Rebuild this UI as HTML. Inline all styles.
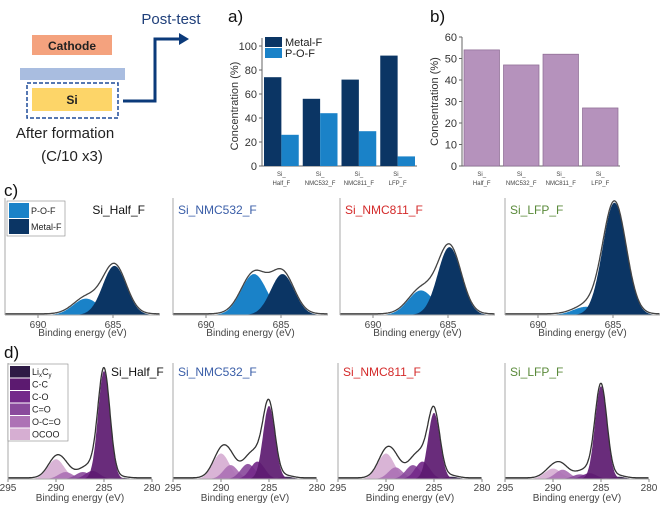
<!DOCTYPE html>
<html><head><meta charset="utf-8"><style>
body{margin:0;background:#fff;}
svg{display:block;font-family:"Liberation Sans",sans-serif;}
</style></head><body>
<svg id="fig" width="662" height="506" viewBox="0 0 662 506">
<g>
<rect x="32" y="35" width="80" height="20" fill="#f4a27e"/>
<text x="72" y="50" font-size="12" font-weight="bold" text-anchor="middle" fill="#222">Cathode</text>
<rect x="20" y="68" width="105" height="12" fill="#a9bde0"/>
<rect x="27" y="83" width="91" height="35" fill="none" stroke="#1f4b99" stroke-width="1.5" stroke-dasharray="4,2"/>
<rect x="32" y="88" width="80" height="23" fill="#fdd568"/>
<text x="72" y="104" font-size="12" font-weight="bold" text-anchor="middle" fill="#222">Si</text>
<text x="65" y="138" font-size="15" text-anchor="middle" fill="#222">After formation</text>
<text x="72" y="161" font-size="15" text-anchor="middle" fill="#222">(C/10 x3)</text>
<polyline points="123,101 155,101 155,39 180,39" fill="none" stroke="#0b3a7a" stroke-width="3"/>
<polygon points="179,33 189,39 179,45" fill="#0b3a7a"/>
<text x="171" y="24" font-size="15" text-anchor="middle" fill="#1f3f7a">Post-test</text>
</g>
<text x="228" y="22" font-size="17" fill="#111">a)</text>
<text x="430" y="22" font-size="17" fill="#111">b)</text>
<text x="4" y="196" font-size="17" fill="#111">c)</text>
<text x="4" y="358" font-size="17" fill="#111">d)</text>
<g id="ga"></g><g id="gb"></g><g id="gc"></g><g id="gd"></g>
</svg>
<script>
const NS="http://www.w3.org/2000/svg";
const catsA=["Si_|Half_F","Si_|NMC532_F","Si_|NMC811_F","Si_|LFP_F"];
const metalF=[74,56,72,92];
const pof=[26,44,29,8];
const ticksA=[0,20,40,60,80,100];
const concB=[54,47,52,27];
const ticksB=[0,10,20,30,40,50,60];
const titles=["Si_Half_F","Si_NMC532_F","Si_NMC811_F","Si_LFP_F"];
const titleColors=["#111","#3a5ea8","#d42a2a","#5a8a3a"];
// c: F 1s components (relative heights)
const cPOF=[0.14,0.35,0.21,0.07];
const cMF=[0.42,0.35,0.58,0.96];
const cCenters=[686.8,684.9];
const cTicks=[690,685];
// d: C 1s components
const dNames=["LixCy","C-C","C-O","C=O","O-C=O","OCOO"];
const dCenters=[283.2,285,286.2,287.2,289,290];
const dColors=["#2d1a45","#5c1a70","#74298a","#8a4a9c","#ad72b5","#d6aed2"];
const dHeights=[
 [0.01,0.93,0.07,0.06,0.06,0.17],
 [0.02,0.63,0.15,0.13,0.12,0.22],
 [0.02,0.57,0.15,0.12,0.10,0.22],
 [0.02,0.80,0.05,0.04,0.08,0.09]];
const dTicks=[295,290,285,280];

function el(t,a,p){const e=document.createElementNS(NS,t);for(const k in a)e.setAttribute(k,a[k]);(p||document.getElementById('fig')).appendChild(e);return e;}
function txt(s,a,p){const e=el('text',a,p);e.textContent=s;return e;}

// chart a
(function(){
const g=document.getElementById('ga');
const x0=262,x1=417,yT=46,yB=166;
const ya=v=>yB-(v/100)*(yB-yT);
const bw=(x1-x0)/4;
el('line',{x1:x0,y1:yT-8,x2:x0,y2:yB,stroke:'#666'},g);
el('line',{x1:x0,y1:yB,x2:x1,y2:yB,stroke:'#666'},g);
ticksA.forEach(t=>{el('line',{x1:x0-3,y1:ya(t),x2:x0,y2:ya(t),stroke:'#666'},g);
const s=txt(t,{x:x0-5,y:ya(t)+4,'font-size':11,'text-anchor':'end',fill:'#333'},g);
});
const yt=txt('Concentration (%)',{x:0,y:0,'font-size':11,'text-anchor':'middle',fill:'#333',transform:`translate(${x0-24},${(yT+yB)/2}) rotate(-90)`},g);

catsA.forEach((c,i)=>{const bx=x0+i*bw+2;
const r1=el('rect',{x:bx,y:ya(metalF[i]),width:bw/2-2,height:yB-ya(metalF[i]),fill:'#0b3564'},g);

const r2=el('rect',{x:bx+bw/2-2,y:ya(pof[i]),width:bw/2-2,height:yB-ya(pof[i]),fill:'#1a82c8'},g);

const p=c.split('|');
txt(p[0],{x:x0+i*bw+bw/2,y:yB+10,'font-size':6,'text-anchor':'middle',fill:'#444'},g);
const l=txt(p[1],{x:x0+i*bw+bw/2,y:yB+19,'font-size':6,'text-anchor':'middle',fill:'#444'},g);
});
el('rect',{x:265,y:37,width:17,height:10,fill:'#0b3564'},g);
txt('Metal-F',{x:285,y:46,'font-size':11,fill:'#222'},g);
el('rect',{x:265,y:48,width:17,height:10,fill:'#1a82c8'},g);
txt('P-O-F',{x:285,y:57,'font-size':11,fill:'#222'},g);
})();

// chart b
(function(){
const g=document.getElementById('gb');
const x0=462,x1=620,yT=37,yB=166;
const yb=v=>yB-(v/60)*(yB-yT);
const bw=(x1-x0)/4;
el('line',{x1:x0,y1:yT,x2:x0,y2:yB,stroke:'#666'},g);
el('line',{x1:x0,y1:yB,x2:x1,y2:yB,stroke:'#666'},g);
ticksB.forEach(t=>{el('line',{x1:x0-3,y1:yb(t),x2:x0,y2:yb(t),stroke:'#666'},g);
const s=txt(t,{x:x0-5,y:yb(t)+4,'font-size':11,'text-anchor':'end',fill:'#333'},g);
});
const yt=txt('Concentration (%)',{x:0,y:0,'font-size':11,'text-anchor':'middle',fill:'#333',transform:`translate(${x0-24},${(yT+yB)/2}) rotate(-90)`},g);

concB.forEach((v,i)=>{const r=el('rect',{x:x0+i*bw+2,y:yb(v),width:bw-4,height:yB-yb(v),fill:'#b592bc',stroke:'#8a6a92','stroke-width':0.7},g);

const p=catsA[i].split('|');
txt(p[0],{x:x0+i*bw+bw/2,y:yB+10,'font-size':6,'text-anchor':'middle',fill:'#444'},g);
txt(p[1],{x:x0+i*bw+bw/2,y:yB+19,'font-size':6,'text-anchor':'middle',fill:'#444'},g);});
})();

function gauss(E,c,h,s){return h*Math.exp(-0.5*Math.pow((E-c)/s,2));}
function areaPath(xf,yf,fn,e0,e1){let d='M'+xf(e0)+','+yf(0);for(let e=e0;e>=e1;e-=0.05)d+=' L'+xf(e).toFixed(1)+','+yf(fn(e)).toFixed(1);d+=' L'+xf(e1)+','+yf(0)+'Z';return d;}
function linePath(xf,yf,fn,e0,e1){let d='';for(let e=e0;e>=e1;e-=0.05)d+=(d?' L':'M')+xf(e).toFixed(1)+','+yf(fn(e)).toFixed(1);return d;}

// panel c
(function(){
const g=document.getElementById('gc');
const offs=[5,173,340,505],yB=315,H=117,W=155;
offs.forEach((x0,i)=>{
const xf=E=>x0+(692.2-E)*15, yf=v=>yB-v*H;
const sg=el('g',{},g);
const e0=692.2,e1=681.9;
const s1=0.85,s2=0.78;
const pa=el('path',{d:areaPath(xf,yf,e=>gauss(e,cCenters[0],cPOF[i],s1),e0,e1),fill:'#1a82c8'},sg);

const pb=el('path',{d:areaPath(xf,yf,e=>gauss(e,cCenters[1],cMF[i],s2),e0,e1),fill:'#0b3564'},sg);

const env=el('path',{d:linePath(xf,yf,e=>gauss(e,cCenters[0],cPOF[i],s1)+gauss(e,cCenters[1],cMF[i],s2)+0.01,e0,e1),fill:'none',stroke:'#444','stroke-width':1.3},sg);

el('line',{x1:x0,y1:yB-H,x2:x0,y2:yB,stroke:'#aaa'},sg);
el('line',{x1:x0,y1:yB,x2:x0+W,y2:yB,stroke:'#aaa'},sg);
cTicks.forEach(t=>{el('line',{x1:xf(t),y1:yB,x2:xf(t),y2:yB+3,stroke:'#888'},sg);
txt(t,{x:xf(t),y:yB+13,'font-size':10,'text-anchor':'middle',fill:'#444'},sg);});
txt('Binding energy (eV)',{x:x0+W/2,y:yB+21,'font-size':10,'text-anchor':'middle',fill:'#444'},sg);
const tt=txt(titles[i],{x:i==0?x0+140:x0+5,y:214,'font-size':12,'text-anchor':i==0?'end':'start',fill:titleColors[i]},sg);

});
el('rect',{x:7,y:201,width:58,height:35,fill:'#fff',stroke:'#888','stroke-width':0.6},g);
el('rect',{x:9,y:203,width:20,height:15,fill:'#1a82c8'},g);
txt('P-O-F',{x:31,y:214,'font-size':9,fill:'#222'},g);
el('rect',{x:9,y:219,width:20,height:15,fill:'#0b3564'},g);
txt('Metal-F',{x:31,y:230,'font-size':9,fill:'#222'},g);
})();

// panel d
(function(){
const g=document.getElementById('gd');
const offs=[8,173,338,505],yB=479,H=116,W=144;
offs.forEach((x0,i)=>{
const xf=E=>x0+(295-E)*9.6, yf=v=>yB-v*H;
const sg=el('g',{},g);
const sig=[0.7,0.62,0.75,0.75,0.75,0.85];
const tot=e=>dCenters.reduce((s,c,k)=>s+gauss(e,c,dHeights[i][k],sig[k]),0);
[5,4,3,2,0,1].forEach(k=>{const p=el('path',{d:areaPath(xf,yf,e=>gauss(e,dCenters[k],dHeights[i][k],sig[k]),295,280),fill:dColors[k],'fill-opacity':0.92},sg);
});
const env=el('path',{d:linePath(xf,yf,e=>tot(e)+0.01,295,280),fill:'none',stroke:'#333','stroke-width':1.3},sg);

el('line',{x1:x0,y1:yB-H,x2:x0,y2:yB,stroke:'#aaa'},sg);
el('line',{x1:x0,y1:yB,x2:x0+W,y2:yB,stroke:'#aaa'},sg);
dTicks.forEach(t=>{el('line',{x1:xf(t),y1:yB,x2:xf(t),y2:yB+3,stroke:'#888'},sg);
txt(t,{x:xf(t),y:yB+12,'font-size':10,'text-anchor':'middle',fill:'#444'},sg);});
txt('Binding energy (eV)',{x:x0+W/2,y:yB+22,'font-size':10,'text-anchor':'middle',fill:'#444'},sg);
const tt=txt(titles[i],{x:i==0?x0+103:x0+5,y:376,'font-size':12,'text-anchor':'start',fill:titleColors[i]},sg);

});
const lg=el('g',{},g);
el('rect',{x:8,y:364,width:60,height:77,fill:'#fff',stroke:'#888','stroke-width':0.6},lg);
dNames.forEach((n,k)=>{el('rect',{x:10,y:366+k*12.5,width:20,height:11.5,fill:dColors[k]},lg);
const t=el('text',{x:32,y:375+k*12.5,'font-size':9,fill:'#222'},lg);
if(n==='LixCy'){t.innerHTML='Li<tspan font-size="6" dy="2">x</tspan><tspan dy="-2">C</tspan><tspan font-size="6" dy="2">y</tspan>';}else t.textContent=n;});
})();
</script>
</body></html>
